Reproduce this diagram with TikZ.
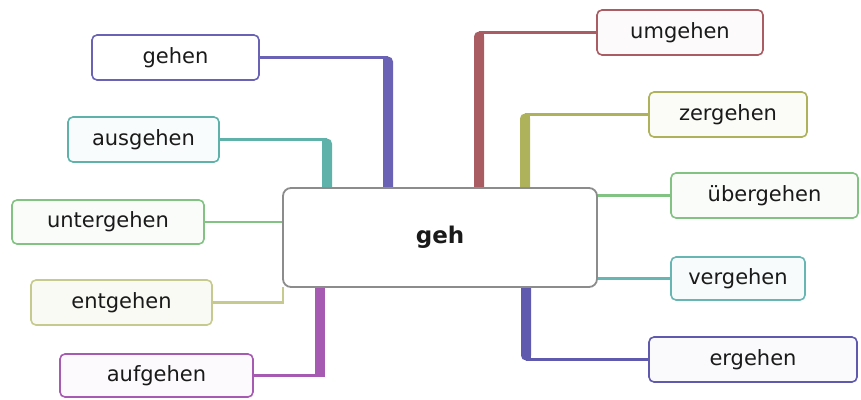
\documentclass[tikz,border=0pt]{standalone}
\usepackage{fontspec}
\setmainfont{DejaVu Sans}
\usetikzlibrary{calc}

% branch colours
\definecolor{cGehen}{HTML}{6A63B5}
\definecolor{cAus}{HTML}{5FB2AA}
\definecolor{cUnter}{HTML}{82C282}
\definecolor{cEnt}{HTML}{C6CA8E}
\definecolor{cAuf}{HTML}{A65AB2}
\definecolor{cUm}{HTML}{A95C62}
\definecolor{cZer}{HTML}{AEB25A}
\definecolor{cUeber}{HTML}{82C282}
\definecolor{cVer}{HTML}{68B6B4}
\definecolor{cEr}{HTML}{5F5AAE}
\definecolor{cCore}{HTML}{8C8C8C}
\definecolor{ink}{HTML}{1A1A1A}

\tikzset{
  leaf/.style={draw, rounded corners=5pt, line width=1.6pt, inner sep=0pt,
    text=ink, font=\fontsize{21}{25}\selectfont},
  core/.style={draw=cCore, fill=white, rounded corners=8pt, line width=1.8pt,
    inner sep=0pt, text=ink, font=\fontsize{23}{27}\selectfont\bfseries},
  link/.style={line width=2.2pt},
}

\begin{document}
\begin{tikzpicture}[x=1pt,y=-1pt]
  \useasboundingbox (0,0) rectangle (861,399);

  % leaf nodes
  \node[leaf, draw=cGehen, fill=white, minimum width=167pt, minimum height=45pt] (gehen) at (175.5,57.5) {gehen};
  \node[leaf, draw=cAus, fill=cAus!4, minimum width=151pt, minimum height=45pt] (aus) at (143.5,139.5) {ausgehen};
  \node[leaf, draw=cUnter, fill=cUnter!5, minimum width=192pt, minimum height=44pt] (unter) at (108,222) {untergehen};
  \node[leaf, draw=cEnt, fill=cEnt!10, minimum width=181pt, minimum height=45pt] (ent) at (121.5,302.5) {entgehen};
  \node[leaf, draw=cAuf, fill=cAuf!3, minimum width=193pt, minimum height=43pt] (auf) at (156.5,375.5) {aufgehen};
  \node[leaf, draw=cUm, fill=cUm!3, minimum width=166pt, minimum height=45pt] (um) at (680,32.5) {umgehen};
  \node[leaf, draw=cZer, fill=cZer!5, minimum width=158pt, minimum height=45pt] (zer) at (728,114.5) {zergehen};
  \node[leaf, draw=cUeber, fill=cUeber!5, minimum width=187pt, minimum height=45pt] (ueber) at (764.5,195.5) {übergehen};
  \node[leaf, draw=cVer, fill=cVer!5, minimum width=134pt, minimum height=43pt] (ver) at (738,278.5) {vergehen};
  \node[leaf, draw=cEr, fill=cEr!3, minimum width=208pt, minimum height=45pt] (er) at (753,359.5) {ergehen};

  % x positions of the thick stems
  \coordinate (sGehen) at (388,0);
  \coordinate (sAus)   at (327,0);
  \coordinate (sAuf)   at (320,0);
  \coordinate (sUm)    at (479,0);
  \coordinate (sZer)   at (525,0);
  \coordinate (sEr)    at (526,0);

  % central node (placed first so the stems can refer to it, drawn on top later)
  \path (440,237.5) node[minimum width=314pt, minimum height=99pt, inner sep=0pt] (ctr) {};

  % gehen: stem up from the top, outer corner rounded on the right
  \draw[link, cGehen] (gehen.east) -- (sGehen |- gehen.east);
  \fill[cGehen, rounded corners=5pt] ([xshift=-5pt,yshift=1pt]sGehen |- gehen.east) rectangle ([xshift=5pt,yshift=-4pt]sGehen |- ctr.north);
  \fill[cGehen] ([xshift=-5pt,yshift=1pt]sGehen |- gehen.east) rectangle ([yshift=-6pt]sGehen |- gehen.east);
  \fill[cGehen] ([xshift=-5pt]sGehen |- ctr.north) rectangle ([xshift=5pt,yshift=8pt]sGehen |- ctr.north);

  % ausgehen
  \draw[link, cAus] (aus.east) -- (sAus |- aus.east);
  \fill[cAus, rounded corners=5pt] ([xshift=-5pt,yshift=1pt]sAus |- aus.east) rectangle ([xshift=5pt,yshift=-4pt]sAus |- ctr.north);
  \fill[cAus] ([xshift=-5pt,yshift=1pt]sAus |- aus.east) rectangle ([yshift=-6pt]sAus |- aus.east);
  \fill[cAus] ([xshift=-5pt]sAus |- ctr.north) rectangle ([xshift=5pt,yshift=8pt]sAus |- ctr.north);

  % umgehen: outer corner rounded on the left
  \draw[link, cUm] (um.west) -- (sUm |- um.west);
  \fill[cUm, rounded corners=5pt] ([xshift=-5pt,yshift=1pt]sUm |- um.west) rectangle ([xshift=5pt,yshift=-4pt]sUm |- ctr.north);
  \fill[cUm] ([xshift=5pt,yshift=1pt]sUm |- um.west) rectangle ([yshift=-6pt]sUm |- um.west);
  \fill[cUm] ([xshift=-5pt]sUm |- ctr.north) rectangle ([xshift=5pt,yshift=8pt]sUm |- ctr.north);

  % zergehen
  \draw[link, cZer] (zer.west) -- (sZer |- zer.west);
  \fill[cZer, rounded corners=5pt] ([xshift=-5pt,yshift=1pt]sZer |- zer.west) rectangle ([xshift=5pt,yshift=-4pt]sZer |- ctr.north);
  \fill[cZer] ([xshift=5pt,yshift=1pt]sZer |- zer.west) rectangle ([yshift=-6pt]sZer |- zer.west);
  \fill[cZer] ([xshift=-5pt]sZer |- ctr.north) rectangle ([xshift=5pt,yshift=8pt]sZer |- ctr.north);

  % aufgehen: straight stem down from the bottom
  \draw[link, cAuf] (auf.east) -- (sAuf |- auf.east);
  \fill[cAuf] ([xshift=-5pt,yshift=-1pt]sAuf |- auf.east) rectangle ([xshift=5pt]sAuf |- ctr.south);

  % ergehen: stem down, outer corner rounded at the bottom left
  \draw[link, cEr] (er.west) -- (sEr |- er.west);
  \fill[cEr, rounded corners=5pt] ([xshift=-5pt,yshift=-1pt]sEr |- er.west) rectangle ([xshift=5pt,yshift=4pt]sEr |- ctr.south);
  \fill[cEr] ([xshift=5pt,yshift=-1pt]sEr |- er.west) rectangle ([yshift=6pt]sEr |- er.west);
  \fill[cEr] ([xshift=-5pt]sEr |- ctr.south) rectangle ([xshift=5pt,yshift=-8pt]sEr |- ctr.south);

  % thin connectors straight to the central box
  \draw[link, cUnter] (unter.east) -- (unter.east -| ctr.west);
  \draw[link, cEnt] (ent.east) -| (ctr.south west);
  \draw[link, cUeber] (ueber.west) -- (ueber.west -| ctr.east);
  \draw[link, cVer] (ver.west) -- (ver.west -| ctr.east);

  % central node
  \node[core, minimum width=314pt, minimum height=99pt] at (ctr) {geh};
\end{tikzpicture}
\end{document}
